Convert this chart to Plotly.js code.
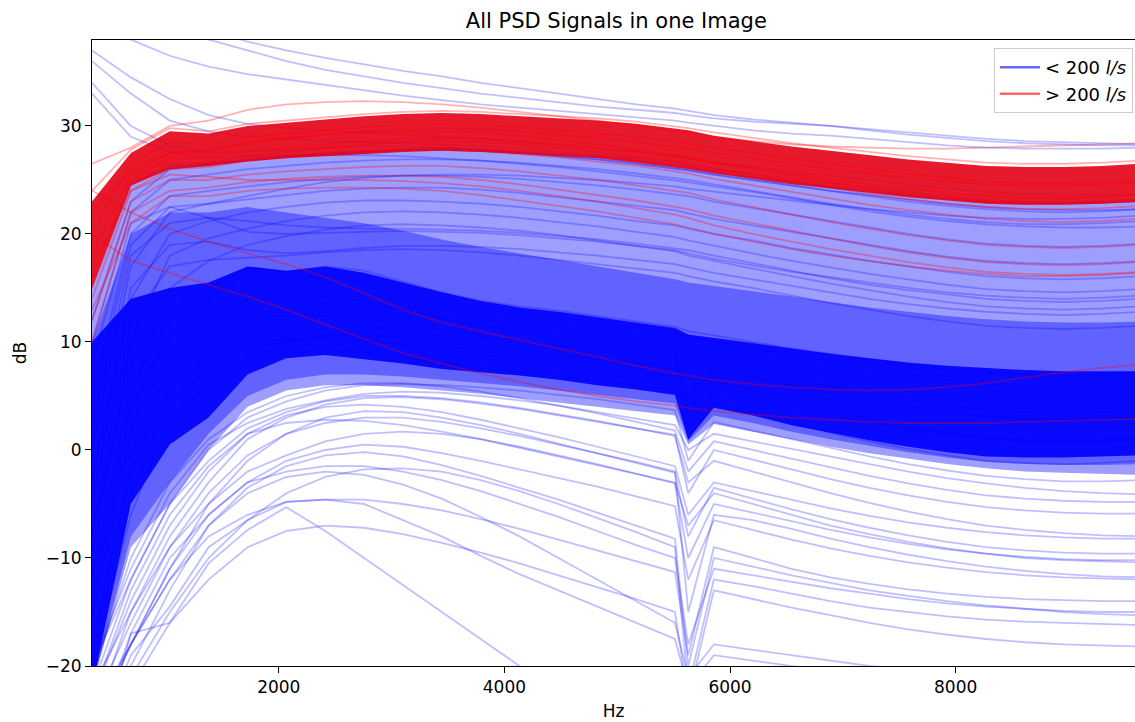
<!DOCTYPE html>
<html>
<head>
<meta charset="utf-8">
<script src="https://cdn.plot.ly/plotly-3.0.1.min.js"></script>
<style>html,body{margin:0;padding:0;background:#fff;}#chart{width:1135px;height:722px;}</style>
</head>
<body>
<div id="chart"></div>
<script>
// Frequency bins (Hz)
const freqs = [344.5, 689, 1034, 1378, 1723, 2067, 2412, 2756, 3101, 3445, 3790, 4134, 4479, 4823, 5168, 5512, 5630, 5857, 6201, 6546, 6890, 7235, 7579, 7924, 8268, 8613, 8957, 9302, 9646];

// Density envelopes (dB)
const blueOuterHi = [15.2, 24.8, 26.3, 26.6, 27, 27.3, 27.5, 27.7, 27.9, 28, 27.9, 27.7, 27.5, 27.3, 26.9, 26.5, 26.3, 25.9, 25.4, 24.9, 24.5, 24.1, 23.7, 23.4, 23.1, 23, 23, 23.1, 23.3];
const blueOuterLo = [-22, -9, -5, 0, 4, 5.5, 6, 6, 5.8, 5.5, 5.2, 4.8, 4.4, 4, 3.6, 3.2, 0.5, 2.4, 1.7, 1, 0.3, -0.3, -0.8, -1.3, -1.7, -2, -2.1, -2.2, -2.3];
const blueInnerHi = [10, 20, 22, 22, 22.5, 22, 21.5, 21, 20.3, 19.5, 18.8, 18.2, 17.6, 17, 16.4, 15.8, 15.5, 15.2, 14.7, 14.2, 13.7, 13.2, 12.8, 12.4, 12.1, 11.9, 11.8, 11.8, 11.9];
const blueInnerLo = [-22, -8, -3, 1.5, 5, 6.5, 7, 7, 6.8, 6.5, 6.2, 5.9, 5.5, 5.1, 4.7, 4.3, 0.8, 3.2, 2.5, 1.7, 1, 0.4, -0.2, -0.7, -1.1, -1.3, -1.4, -1.4, -1.3];
const blueCoreHi = [10, 14, 15, 15.5, 17, 16.6, 17, 16.4, 15.5, 14.6, 13.8, 13.2, 12.8, 12.3, 11.8, 11.3, 10.7, 10.4, 9.9, 9.4, 8.9, 8.5, 8.1, 7.8, 7.6, 7.4, 7.3, 7.3, 7.3];
const blueCoreLo = [-22, -5, 0.5, 3, 7, 8.5, 8.8, 8.4, 8, 7.5, 7.2, 6.9, 6.5, 6, 5.6, 5.1, 1, 3.9, 3.2, 2.3, 1.6, 0.9, 0.3, -0.2, -0.6, -0.7, -0.7, -0.6, -0.5];
const redCoreHi  = [23, 27.5, 29.5, 29.3, 30, 30.3, 30.6, 30.9, 31.1, 31.2, 31.1, 30.9, 30.7, 30.5, 30.2, 29.8, 29.6, 29.1, 28.6, 28.1, 27.7, 27.3, 26.9, 26.6, 26.3, 26.2, 26.2, 26.3, 26.5];
const redCoreLo  = [15, 24.5, 26, 26.3, 26.7, 27, 27.2, 27.4, 27.6, 27.7, 27.6, 27.4, 27.2, 27, 26.6, 26.2, 26, 25.6, 25.1, 24.6, 24.2, 23.8, 23.4, 23.1, 22.8, 22.7, 22.7, 22.8, 23];

// Individual "< 200 l/s" signals (dB)
const bT1 = [45, 42, 39.5, 38, 37, 36, 35.2, 34.6, 34, 33.5, 33, 32.6, 32.2, 31.8, 31.5, 31.2, 31, 30.7, 30.4, 30.2, 30, 29.7, 29.4, 29.1, 28.8, 28.6, 28.5, 28.4, 28.3];
const bT2 = [40, 38, 36.5, 35.5, 34.8, 34.3, 33.8, 33.3, 32.8, 32.4, 32, 31.7, 31.4, 31.1, 30.8, 30.5, 30.3, 30, 29.6, 29.3, 29.1, 28.8, 28.5, 28.2, 28, 27.9, 27.9, 27.9, 28];
const bT3 = [46, 44, 41, 39, 37.8, 37, 36.3, 35.7, 35.1, 34.6, 34, 33.5, 33, 32.5, 32, 31.6, 31.4, 31, 30.6, 30.3, 30, 29.6, 29.2, 28.9, 28.6, 28.4, 28.3, 28.2, 28.2];
const bT4 = [37, 34.5, 32.5, 31, 30.2, 29.8, 29.6, 29.4, 29.2, 29, 28.8, 28.5, 28.2, 27.9, 27.6, 27.2, 27, 26.6, 26.2, 25.8, 25.4, 25, 24.6, 24.2, 23.9, 23.7, 23.6, 23.6, 23.7];
const bT5 = [36, 33, 30.5, 29.5, 29, 28.8, 28.6, 28.5, 28.4, 28.3, 28.1, 27.9, 27.6, 27.3, 27, 26.6, 26.4, 26, 25.6, 25.1, 24.7, 24.3, 23.9, 23.5, 23.2, 23, 22.9, 22.9, 23];
const bT6 = [34, 30, 28.2, 27.5, 27.6, 27.8, 28, 28.1, 28.1, 28, 27.8, 27.5, 27.2, 26.9, 26.5, 26.1, 25.9, 25.5, 25, 24.5, 24, 23.6, 23.2, 22.8, 22.5, 22.3, 22.2, 22.2, 22.3];
const bT7 = [33, 29, 27.6, 27, 27.2, 27.3, 27.3, 27.3, 27.2, 27, 26.8, 26.5, 26.2, 25.8, 25.4, 25, 24.8, 24.4, 23.9, 23.3, 22.7, 22.1, 21.6, 21.2, 20.9, 20.7, 20.6, 20.6, 20.7];
const bU1 = [10, 22, 25, 25.5, 26, 26.3, 26.6, 26.8, 26.9, 26.9, 26.8, 26.6, 26.3, 26, 25.6, 25.2, 25, 24.6, 24, 23.4, 22.8, 22.3, 21.8, 21.4, 21.1, 20.9, 20.9, 21, 21.2];
const bU2 = [5, 20, 23.5, 24, 24.4, 24.8, 25.1, 25.3, 25.4, 25.4, 25.3, 25.1, 24.8, 24.5, 24.1, 23.7, 23.5, 23, 22.4, 21.8, 21.2, 20.6, 20, 19.5, 19.1, 18.9, 18.8, 18.9, 19.1];
const bU3 = [0, 17, 22, 22.8, 23.2, 23.6, 24, 24.2, 24.3, 24.3, 24.1, 23.8, 23.4, 23, 22.6, 22.2, 21.9, 21.4, 20.8, 20.2, 19.6, 19, 18.4, 17.9, 17.5, 17.3, 17.2, 17.3, 17.5];
const bU4 = [-5, 14, 20, 21.2, 22, 22.5, 22.9, 23.1, 23.1, 23, 22.8, 22.5, 22.1, 21.7, 21.2, 20.8, 20.5, 20, 19.4, 18.7, 18.1, 17.5, 17, 16.5, 16.1, 15.9, 15.8, 15.9, 16.1];
const bU5 = [12, 23, 26, 26.4, 26.8, 27.2, 27.5, 27.7, 27.8, 27.8, 27.7, 27.5, 27.2, 26.9, 26.5, 26.1, 25.9, 25.5, 25, 24.5, 24, 23.5, 23, 22.6, 22.3, 22.1, 22, 22.1, 22.3];
const bU6 = [-10, 10, 18, 19.6, 20.5, 21.2, 21.7, 22, 22.1, 22, 21.8, 21.5, 21.1, 20.7, 20.2, 19.7, 19.4, 18.9, 18.2, 17.5, 16.9, 16.3, 15.8, 15.3, 14.9, 14.7, 14.6, 14.7, 14.9];
const bU7 = [2, 18, 21, 21.5, 21.2, 20.8, 20.6, 20.5, 20.5, 20.4, 20.3, 20.1, 19.8, 19.5, 19.1, 18.7, 18.5, 18, 17.3, 16.6, 15.9, 15.3, 14.8, 14.4, 14, 13.8, 13.7, 13.8, 14];
const bU8 = [-15, 5, 15, 17.5, 19, 19.8, 20.4, 20.8, 20.9, 20.8, 20.6, 20.3, 19.9, 19.4, 18.9, 18.4, 18, 17.5, 16.8, 16.1, 15.4, 14.8, 14.2, 13.7, 13.3, 13.1, 13, 13.1, 13.3];
const bU9 = [8, 21, 22.5, 22.8, 23.5, 24.2, 24.8, 25.2, 25.4, 25.5, 25.5, 25.4, 25.2, 25, 24.7, 24.4, 24.2, 23.9, 23.5, 23.1, 22.7, 22.3, 22, 21.7, 21.5, 21.4, 21.4, 21.5, 21.7];
const bU10 = [-3, 15, 19, 19.3, 18.5, 18.2, 18.4, 18.7, 18.9, 18.9, 18.8, 18.6, 18.3, 18, 17.6, 17.2, 16.9, 16.4, 15.8, 15.2, 14.6, 14, 13.5, 13.1, 12.8, 12.6, 12.5, 12.6, 12.8];
const bU11 = [-8, 12, 17, 17.6, 17.8, 18, 18.3, 18.5, 18.6, 18.5, 18.3, 18, 17.6, 17.2, 16.8, 16.4, 16.1, 15.6, 15, 14.3, 13.6, 13, 12.4, 11.9, 11.5, 11.3, 11.2, 11.3, 11.5];
const bU12 = [4, 19, 22.5, 21.5, 20.2, 20, 20.1, 20.2, 20.3, 20.2, 20.1, 19.9, 19.6, 19.3, 18.9, 18.5, 18.2, 17.7, 17.1, 16.5, 16, 15.5, 15, 14.6, 14.3, 14.1, 14, 14.1, 14.3];
const bC1 = [-12, 6, 12, 14, 16.5, 15.8, 16.2, 15.5, 14.6, 13.8, 13, 12.6, 12.2, 11.8, 11.3, 10.8, 10.5, 10, 9.4, 8.8, 8.2, 7.6, 7, 6.5, 6.1, 5.9, 5.8, 5.9, 6.1];
const bC2 = [-16, 2, 9, 11, 12.5, 12.4, 12.4, 12.2, 11.7, 11.2, 10.6, 10.1, 9.7, 9.3, 8.9, 8.5, 5, 7.4, 6.7, 6, 5.3, 4.6, 4, 3.5, 3.1, 2.9, 2.8, 2.9, 3.1];
const bC3 = [-18, -2, 6, 8.5, 10, 10.2, 10.3, 10.2, 9.8, 9.3, 8.8, 8.4, 8, 7.6, 7.2, 6.8, 2, 5.6, 4.8, 4, 3.3, 2.6, 2, 1.5, 1.1, 0.9, 0.8, 0.9, 1.1];
const bC4 = [-20, -6, 3, 6, 8.5, 9, 9.2, 9, 8.6, 8.1, 7.6, 7.2, 6.8, 6.4, 6, 5.6, 1, 4.3, 3.4, 2.5, 1.6, 0.8, 0.1, -0.5, -1, -1.2, -1.3, -1.2, -1];
const bC5 = [-8, 8, 13, 15, 16.8, 16.5, 17, 16.6, 15.6, 14.6, 13.8, 13.3, 12.9, 12.4, 11.9, 11.4, 11, 10.6, 10, 9.4, 8.9, 8.4, 7.9, 7.5, 7.2, 7, 6.9, 7, 7.2];
const bC6 = [-14, 4, 10.5, 12.5, 14, 14, 14.2, 13.8, 13, 12.2, 11.5, 11, 10.5, 10, 9.5, 9, 3, 8, 7.3, 6.6, 5.9, 5.2, 4.6, 4.1, 3.7, 3.5, 3.4, 3.5, 3.7];
const bC7 = [-19, -4, 4.5, 7.5, 9.5, 10, 10.6, 10.7, 10.4, 10, 9.6, 9.2, 8.8, 8.4, 8, 7.6, 4, 6.4, 5.5, 4.6, 3.7, 2.9, 2.2, 1.6, 1.1, 0.8, 0.7, 0.8, 1];
const bL1 = [-20, -12, -5, 0, 3, 4.5, 5.5, 6, 6.1, 6, 5.8, 5.5, 5.1, 4.7, 4.2, 3.7, -1, 2.6, 1.8, 1, 0.2, -0.6, -1.3, -1.9, -2.4, -2.7, -2.9, -2.9, -2.8];
const bL2 = [-22, -15, -8, -3, 1, 3, 4.2, 4.8, 4.9, 4.7, 4.3, 3.8, 3.2, 2.6, 2, 1.4, -4, 0, -0.9, -1.8, -2.7, -3.5, -4.2, -4.8, -5.3, -5.6, -5.8, -5.9, -5.9];
const bL3 = [-24, -18, -11, -5, -1, 1.5, 3, 3.6, 3.5, 3, 2.3, 1.5, 0.6, -0.3, -1.2, -2.1, -8, -3.5, -4.5, -5.5, -6.4, -7.2, -7.9, -8.5, -9, -9.3, -9.5, -9.6, -9.6];
const bL4 = [-30, -17, -16, -10.5, -7.4, -5.3, -7.5, -10, -12.5, -15, -17.5, -20, -23, -25, -26, -26, -27, -26, -26, -26, -26, -26, -26, -26, -26, -26, -26, -26, -26];
const bL5 = [-28, -19, -14.5, -9, -6.5, -4.8, -4.6, -5, -6.5, -8, -9.8, -11.5, -13, -14.5, -16, -17.5, -22, -19, -19.5, -20, -20.5, -21, -21, -21, -21, -21, -21, -21, -21];
const bL6 = [-26, -18, -11, -6, -3, -1, 0, 0.5, 0.3, -0.3, -1, -1.8, -2.6, -3.4, -4.3, -5.2, -12, -6.5, -7.4, -8.3, -9.1, -9.8, -10.4, -10.9, -11.3, -11.6, -11.8, -11.9, -12];
const bL7 = [-24, -16, -9, -4, -0.5, 1.5, 2.5, 3, 3, 2.6, 2, 1.3, 0.5, -0.3, -1.1, -2, -15, -6, -6.5, -7.3, -8.2, -9, -9.7, -10.3, -10.8, -11.2, -11.5, -11.7, -11.8];
const bL8 = [-27, -20, -13, -7, -3.5, -1.5, -0.5, -0.2, -0.6, -1.4, -2.4, -3.5, -4.6, -5.8, -7, -8.2, -20, -10, -10.8, -11.6, -12.3, -13, -13.5, -14, -14.4, -14.7, -15, -15.2, -15.3];
const bL9 = [-29, -21, -15, -10, -6.5, -4, -2.5, -1.8, -1.7, -2, -2.8, -3.8, -5, -6.3, -7.6, -9, -22, -12, -12.6, -13.3, -14, -14.6, -15, -15.4, -15.7, -15.9, -16, -16.1, -16.2];
const bL10 = [-23, -14, -7, -2, 1.5, 3.2, 4, 4.2, 4, 3.5, 2.8, 2, 1.2, 0.3, -0.6, -1.5, -6, -3, -3.8, -4.6, -5.4, -6.1, -6.7, -7.2, -7.6, -7.9, -8.1, -8.2, -8.2];
const bL11 = [-26, -18, -12, -7, -4, -2.5, -2, -2.3, -3.2, -4.5, -6.2, -8, -10, -12, -14, -16, -21, -18, -18.5, -19, -19.5, -20, -20.3, -20.6, -20.8, -21, -21, -21, -21];
const bL12 = [-21, -10, -3, 1, 3.5, 5, 5.8, 6.2, 6.2, 5.9, 5.4, 4.8, 4.1, 3.4, 2.6, 1.8, -2, 0.8, 0, -0.8, -1.6, -2.4, -3.1, -3.7, -4.2, -4.5, -4.7, -4.8, -4.8];
const bL13 = [-25, -18, -12, -8, -6, -4.8, -4.6, -4.6, -5, -5.6, -6.4, -7.3, -8.3, -9.3, -10.3, -11.3, -19, -9, -10, -11, -11.8, -12.4, -12.9, -13.3, -13.6, -13.8, -13.9, -14, -14];
const bL14 = [-30, -22, -16, -12, -9, -7.5, -7, -7.2, -7.8, -8.6, -9.5, -10.5, -11.6, -12.7, -13.8, -15, -23, -13, -13.8, -14.6, -15.3, -16, -16.6, -17.1, -17.5, -17.8, -18, -18.1, -18.2];
const bL15 = [-22, -12, -5, -1, 2, 3.5, 4.5, 5, 5, 4.8, 4.4, 3.9, 3.3, 2.7, 2, 1.3, -3, -1, -2, -3, -4, -4.9, -5.7, -6.4, -7, -7.4, -7.7, -7.9, -8];
const bL16 = [-23, -13, -6, -1.5, 1.5, 2.5, 2.8, 2.7, 2.3, 1.7, 1, 0.2, -0.6, -1.4, -2.2, -3, -7, -4, -5, -6, -7, -7.8, -8.5, -9.1, -9.6, -10, -10.2, -10.3, -10.4];
const bL17 = [-25, -15, -9, -5, -2, -0.5, 0.8, 1.5, 1.7, 1.5, 1, 0.3, -0.5, -1.3, -2.2, -3.1, -10, -5, -5.8, -6.6, -7.4, -8.1, -8.7, -9.2, -9.6, -9.9, -10.1, -10.2, -10.2];
const bL18 = [-20, -11, -4, 0.5, 2.5, 3.8, 4.6, 5.2, 5.4, 5.3, 5, 4.6, 4.1, 3.5, 2.9, 2.3, 0, 1.5, 0.8, 0.1, -0.6, -1.3, -2, -2.6, -3.1, -3.5, -3.8, -4, -4.1];
const bL19 = [-27, -17, -10, -6, -3, -2, -1.5, -1.5, -2, -2.8, -3.8, -5, -6.2, -7.5, -8.8, -10, -18, -11, -11.6, -12.2, -12.8, -13.3, -13.8, -14.2, -14.5, -14.7, -14.9, -15, -15];

// Individual "> 200 l/s" signals (dB)
const rS1 = [12, 23, 25, 25, 25.5, 25.8, 26, 26.2, 26.3, 26.3, 26.1, 25.8, 25.4, 25, 24.5, 24, 23.8, 23.2, 22.5, 21.8, 21.1, 20.5, 19.9, 19.4, 19, 18.8, 18.7, 18.8, 19];
const rS2 = [10, 22, 24, 24.3, 24.8, 25.1, 25.3, 25.4, 25.4, 25.3, 25, 24.6, 24.1, 23.6, 23.1, 22.5, 22.3, 21.7, 21, 20.3, 19.6, 18.9, 18.3, 17.8, 17.4, 17.2, 17.1, 17.2, 17.4];
const rS3 = [24, 22, 20.5, 19.3, 18.2, 17.2, 16, 14.5, 13, 11.8, 11, 10.2, 9.4, 8.6, 7.8, 7.1, 6.9, 6.5, 6.1, 5.8, 5.6, 5.5, 5.6, 5.8, 6.2, 6.7, 7.2, 7.6, 7.9];
const rS4 = [20, 17.5, 16.4, 15.3, 14.2, 13, 11.6, 10.3, 9, 8, 7.1, 6.3, 5.6, 5, 4.5, 4.1, 3.9, 3.6, 3.3, 3, 2.8, 2.6, 2.5, 2.5, 2.5, 2.6, 2.7, 2.8, 2.9];
const rS5 = [17, 24, 25.5, 25.3, 25, 25, 25, 25, 24.9, 24.7, 24.4, 24, 23.5, 23, 22.4, 21.8, 21.5, 20.8, 20, 19.3, 18.6, 18, 17.4, 16.9, 16.5, 16.3, 16.2, 16.3, 16.5];
const rS6 = [13, 21, 23.5, 23.5, 24, 24.2, 24.3, 24.3, 24.2, 24, 23.6, 23.1, 22.6, 22.1, 21.5, 20.9, 20.6, 20, 19.3, 18.6, 18, 17.5, 17, 16.6, 16.3, 16.1, 16.1, 16.2, 16.4];
const rS7 = [14, 24, 26, 26.2, 26.8, 27.1, 27.4, 27.6, 27.8, 27.8, 27.7, 27.4, 27.1, 26.7, 26.3, 25.8, 25.6, 25.1, 24.5, 23.9, 23.3, 22.7, 22.2, 21.8, 21.4, 21.2, 21.1, 21.2, 21.4];
const rS8 = [15, 24.5, 26.5, 26.6, 27.2, 27.6, 28, 28.3, 28.5, 28.6, 28.5, 28.3, 28, 27.6, 27.2, 26.8, 26.6, 26.1, 25.5, 24.9, 24.3, 23.7, 23.2, 22.8, 22.5, 22.3, 22.3, 22.4, 22.6];
const rB1 = [24, 27.8, 29.8, 29.5, 30.2, 30.5, 30.8, 31.1, 31.3, 31.4, 31.3, 31.1, 30.9, 30.7, 30.4, 30, 29.8, 29.4, 28.9, 28.4, 28, 27.6, 27.2, 26.9, 26.6, 26.5, 26.5, 26.6, 26.8];
const rB2 = [26.5, 28, 30, 30.5, 31.5, 32, 32.2, 32.3, 32.2, 32, 31.7, 31.3, 30.9, 30.5, 30, 29.6, 29.4, 29, 28.6, 28.3, 28.1, 28, 27.9, 27.9, 28, 28.1, 28.2, 28.3, 28.4];
const rB3 = [20, 26.5, 28.5, 28.3, 29, 29.3, 29.6, 29.9, 30.1, 30.2, 30.1, 29.9, 29.6, 29.3, 29, 28.6, 28.4, 28, 27.5, 27, 26.5, 26, 25.6, 25.2, 24.9, 24.7, 24.7, 24.8, 25];
const rB4 = [16, 25, 27, 27, 27.7, 28, 28.3, 28.6, 28.8, 28.9, 28.8, 28.6, 28.3, 28, 27.6, 27.2, 27, 26.6, 26.1, 25.6, 25.1, 24.6, 24.2, 23.8, 23.5, 23.3, 23.3, 23.4, 23.6];
const rB5 = [18, 25.5, 27.5, 27.6, 28.4, 28.8, 29.2, 29.5, 29.7, 29.8, 29.7, 29.5, 29.2, 28.9, 28.5, 28.1, 27.9, 27.5, 27, 26.5, 26, 25.6, 25.2, 24.9, 24.6, 24.5, 24.5, 24.6, 24.8];
const rB6 = [22, 26, 27.5, 27.8, 28.5, 28.9, 29.2, 29.4, 29.5, 29.5, 29.4, 29.1, 28.7, 28.3, 27.8, 27.3, 27.1, 26.6, 26, 25.4, 24.8, 24.2, 23.7, 23.3, 23, 22.8, 22.8, 22.9, 23.1];

// Tick labels / legend labels
const xTicks = [2000, 4000, 6000, 8000];
const yTicks = [-20, -10, 0, 10, 20, 30];
const legendLow = '&lt; 200 <i>l/s</i>';
const legendHigh = '&gt; 200 <i>l/s</i>';

const blueLines = [bT4, bT5, bT6, bT7, bU1, bU2, bU3, bU4, bU5, bU6, bU7, bU8, bU9, bU10, bU11, bU12,
  bC1, bC2, bC3, bC4, bC5, bC6, bC7, bL1, bL2, bL3, bL4, bL5, bL6, bL7, bL8, bL9, bL10, bL11, bL12, bL13, bL14, bL15,
  bL16, bL17, bL18, bL19];
const blueTopLines = [bT1, bT2, bT3];
const redSpread = [rS1, rS2, rS3, rS4, rS5, rS6, rS7, rS8];
const redBand = [rB1, rB2, rB3, rB4, rB5, rB6];

const traces = [];
function band(lo, hi, color) {
  traces.push({x: freqs, y: lo, mode: 'lines', line: {width: 0, color: 'rgba(0,0,0,0)'}, showlegend: false, hoverinfo: 'skip'});
  traces.push({x: freqs, y: hi, mode: 'lines', line: {width: 0, color: 'rgba(0,0,0,0)'}, fill: 'tonexty', fillcolor: color, showlegend: false, hoverinfo: 'skip'});
}
function line(y, color, w) {
  traces.push({x: freqs, y: y, mode: 'lines', line: {color: color, width: w}, showlegend: false, hoverinfo: 'skip'});
}

// legend proxies first so the legend order is blue then red
traces.push({x: [null], y: [null], mode: 'lines', line: {color: 'rgba(0,0,255,0.6)', width: 2.5}, name: legendLow, showlegend: true});
traces.push({x: [null], y: [null], mode: 'lines', line: {color: 'rgba(255,0,0,0.6)', width: 2.5}, name: legendHigh, showlegend: true});

band(blueOuterLo, blueOuterHi, 'rgba(0,0,255,0.38)');
band(blueInnerLo, blueInnerHi, 'rgba(0,0,255,0.38)');
band(blueCoreLo, blueCoreHi, 'rgba(0,0,255,0.9)');
blueLines.forEach(a => line(a, 'rgba(0,0,255,0.25)', 1.8));
redSpread.forEach(a => line(a, 'rgba(255,0,0,0.3)', 1.8));
band(redCoreLo, redCoreHi, 'rgba(228,0,22,0.9)');
redBand.forEach(a => line(a, 'rgba(255,0,0,0.3)', 1.8));
blueTopLines.forEach(a => line(a, 'rgba(0,0,255,0.25)', 1.8));

const layout = {
  width: 1135, height: 722,
  margin: {l: 92, r: 0, t: 40, b: 56},
  paper_bgcolor: '#fff', plot_bgcolor: '#fff',
  font: {family: 'DejaVu Sans, sans-serif', size: 17, color: '#000'},
  title: {text: 'All PSD Signals in one Image', font: {size: 21, color: '#000'}, x: 0.543, xanchor: 'center', y: 0.972, yanchor: 'middle'},
  xaxis: {
    range: [344.5, 9590], tickvals: xTicks, ticktext: xTicks.map(String),
    ticks: 'outside', ticklen: 6, tickwidth: 1, tickcolor: '#000',
    showline: true, linecolor: '#000', linewidth: 1, mirror: true,
    showgrid: false, zeroline: false,
    title: {text: 'Hz', font: {size: 17}, standoff: 8}
  },
  yaxis: {
    range: [-20, 37.96], tickvals: yTicks, ticktext: yTicks.map(v => v < 0 ? '\u2212' + Math.abs(v) : String(v)),
    ticks: 'outside', ticklen: 6, tickwidth: 1, tickcolor: '#000',
    showline: true, linecolor: '#000', linewidth: 1, mirror: false,
    showgrid: false, zeroline: false,
    title: {text: 'dB', font: {size: 17}, standoff: 14}
  },
  showlegend: true,
  legend: {x: 0.998, xanchor: 'right', y: 0.987, yanchor: 'top', traceorder: 'normal', bgcolor: 'rgba(255,255,255,0.85)', bordercolor: '#cccccc', borderwidth: 1, font: {size: 18}, itemwidth: 40, tracegroupgap: 0},
  hovermode: false
};

Plotly.newPlot('chart', traces, layout, {staticPlot: true, displayModeBar: false});
</script>
</body>
</html>
